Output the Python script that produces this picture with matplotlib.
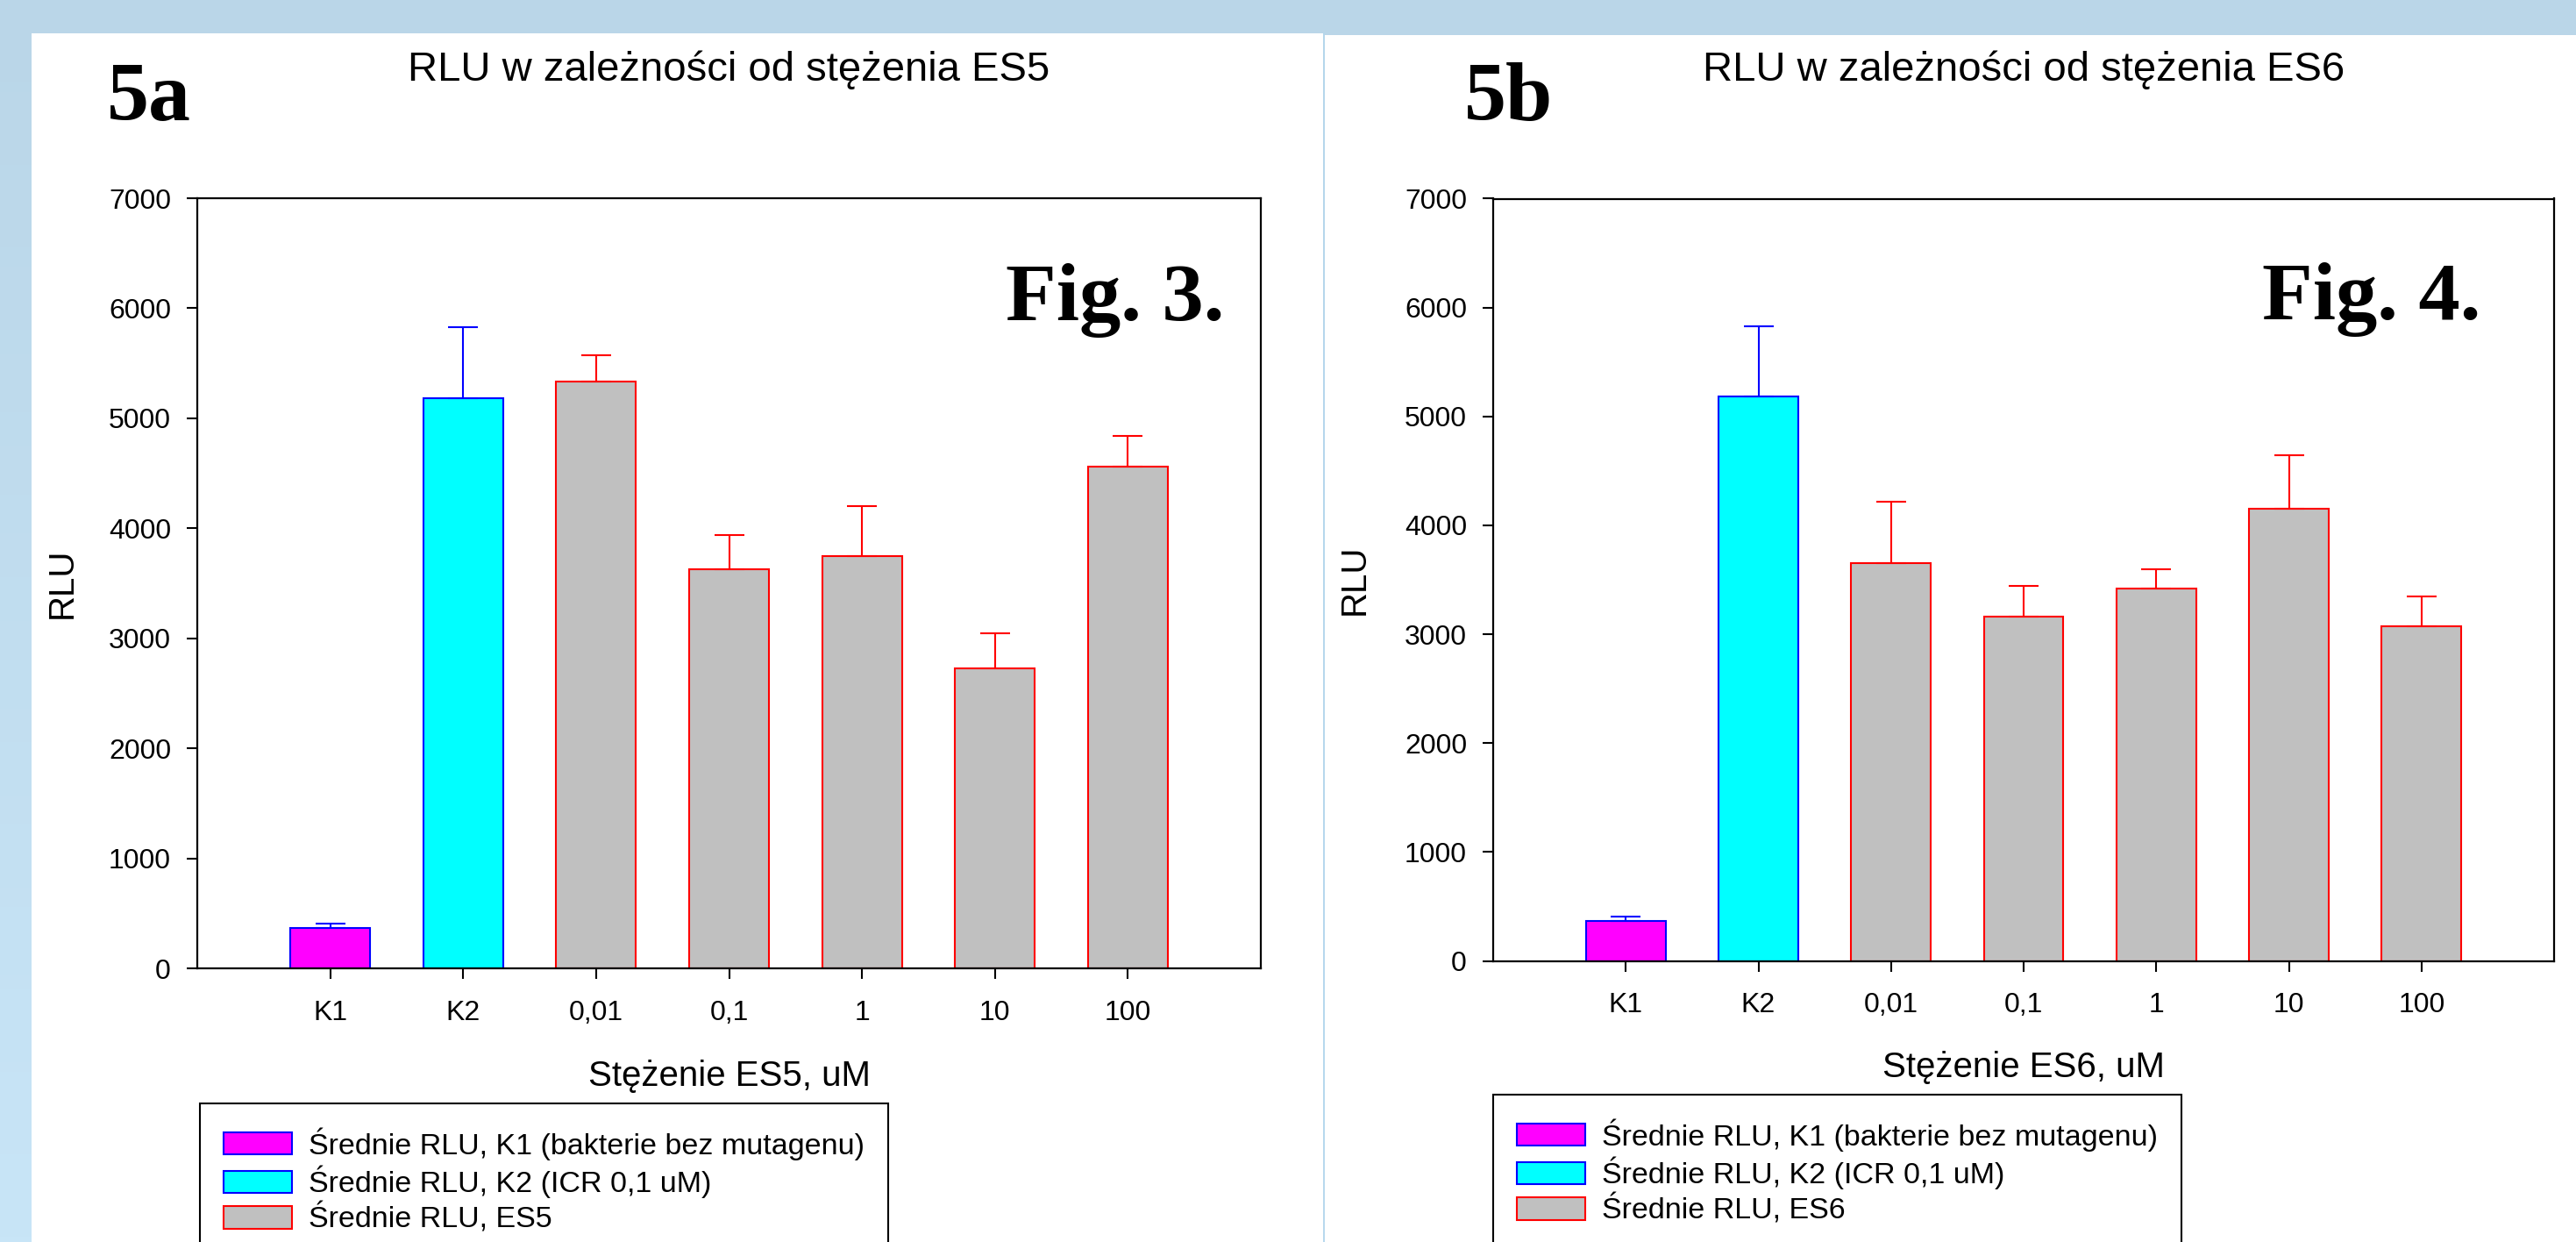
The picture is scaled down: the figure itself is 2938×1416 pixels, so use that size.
import numpy as np
import matplotlib
matplotlib.use("Agg")
import matplotlib.pyplot as plt
from matplotlib.patches import Patch, Rectangle
from matplotlib.colors import LinearSegmentedColormap

W, H = 2938, 1416

# ---------------- data ----------------
categories = ["K1", "K2", "0,01", "0,1", "1", "10", "100"]
es5_means = [365, 5185, 5335, 3630, 3750, 2725, 4560]
es5_errors = [45, 645, 240, 312, 450, 317, 276]
es6_means = [365, 5185, 3656, 3158, 3420, 4150, 3070]
es6_errors = [45, 645, 557, 288, 180, 490, 280]

titles = ["RLU w zależności od stężenia ES5", "RLU w zależności od stężenia ES6"]
xlabels = ["Stężenie ES5, uM", "Stężenie ES6, uM"]
panel_tags = ["5a", "5b"]
fig_tags = ["Fig. 3.", "Fig. 4."]
legend_labels_5 = ["Średnie RLU, K1 (bakterie bez mutagenu)",
                   "Średnie RLU, K2 (ICR 0,1 uM)",
                   "Średnie RLU, ES5"]
legend_labels_6 = ["Średnie RLU, K1 (bakterie bez mutagenu)",
                   "Średnie RLU, K2 (ICR 0,1 uM)",
                   "Średnie RLU, ES6"]

FACE = ["#FF00FF", "#00FFFF"] + ["#C0C0C0"] * 5
EDGE = ["#0000FF", "#0000FF"] + ["#FF0000"] * 5

SANS = ["Liberation Sans", "DejaVu Sans"]
SERIF = ["Liberation Serif", "DejaVu Serif"]
plt.rcParams["font.family"] = SANS


def fx(px):
    return px / W


def fy(py):
    return 1 - py / H


fig = plt.figure(figsize=(W / 100, H / 100), dpi=100)

# ---------------- background ----------------
bg = fig.add_axes([0, 0, 1, 1], zorder=-10)
cmap = LinearSegmentedColormap.from_list("bgblue", ["#BAD6E8", "#C8E5F7"])
grad = np.linspace(0, 1, 256).reshape(-1, 1)
bg.imshow(grad, cmap=cmap, aspect="auto", extent=[0, 1, 0, 1], origin="upper")
bg.set_xlim(0, 1)
bg.set_ylim(0, 1)
bg.axis("off")
# white panels
bg.add_patch(Rectangle((fx(36), 0), fx(1509) - fx(36), fy(38), facecolor="white",
                       edgecolor="none"))
bg.add_patch(Rectangle((fx(1511), 0), 1 - fx(1511), fy(40), facecolor="white",
                       edgecolor="none"))
bg.plot([fx(1510), fx(1510)], [0, fy(38)], color="#B5D6EC", lw=1.2)

# ---------------- axes ----------------
axes_px = [
    (225, 1438, 226, 1104),
    (1703, 2913, 226.5, 1095.5),
]
data = [(es5_means, es5_errors), (es6_means, es6_errors)]
legend_sets = [legend_labels_5, legend_labels_6]
tag_pos = [(122, 137), (1670, 137)]
figtag_pos = [(1147, 365), (2580, 364)]
legend_pos = [(228, 1258), (1702.5, 1248)]
xlabel_px = [1227, 1217]
ylabel_px = [71, 1545]

x = np.arange(1, len(categories) + 1)

for k in range(2):
    l, r, t, b = axes_px[k]
    ax = fig.add_axes([fx(l), fy(b), fx(r) - fx(l), fy(t) - fy(b)])
    means, errs = data[k]
    ax.bar(x, means, width=0.6, color=FACE, edgecolor=EDGE, linewidth=1.5,
           zorder=2)
    for i in range(len(x)):
        ax.errorbar(x[i], means[i], yerr=[[0], [errs[i]]], fmt="none",
                    ecolor=EDGE[i], elinewidth=1.5, capsize=12, capthick=1.5,
                    zorder=3)
    ax.set_xlim(0, 8)
    ax.set_ylim(0, 7000)
    ax.set_yticks(np.arange(0, 7001, 1000))
    ax.set_xticks(x)
    ax.set_xticklabels(categories)
    for sp in ax.spines.values():
        sp.set_linewidth(1.6)
        sp.set_color("black")
    ax.tick_params(axis="both", direction="out", length=8.6, width=1.5,
                   labelsize=23, colors="black")
    ax.tick_params(axis="y", pad=13)
    ax.tick_params(axis="x", pad=17)

    ax.set_ylabel("RLU", fontsize=29, va="center", ha="center")
    ax.yaxis.set_label_coords((ylabel_px[k] - l) / (r - l), 0.5)
    ax.set_xlabel(xlabels[k], fontsize=29, va="center", ha="center")
    ax.xaxis.set_label_coords(0.5, (b - xlabel_px[k]) / (b - t))

    # title
    fig.text(fx((l + r) / 2), fy(92), titles[k], fontsize=34, ha="center",
             va="baseline", family=SANS)
    # panel tag
    fig.text(fx(tag_pos[k][0]), fy(tag_pos[k][1]), panel_tags[k], fontsize=69,
             fontweight="bold", family=SERIF, ha="left", va="baseline")
    fig.text(fx(figtag_pos[k][0]), fy(figtag_pos[k][1]), fig_tags[k],
             fontsize=68, fontweight="bold", family=SERIF, ha="left",
             va="baseline")

    handles = [Patch(facecolor=FACE[j], edgecolor=EDGE[j], linewidth=1.5)
               for j in range(3)]
    leg = fig.legend(handles, legend_sets[k], loc="upper left",
                     bbox_to_anchor=(fx(legend_pos[k][0]), fy(legend_pos[k][1])),
                     bbox_transform=fig.transFigure, borderaxespad=0,
                     fontsize=24.5, frameon=True, fancybox=False, shadow=False,
                     edgecolor="black", framealpha=1, borderpad=0.8,
                     labelspacing=0.17, handlelength=2.3, handleheight=0.76,
                     handletextpad=0.55)
    leg.get_frame().set_linewidth(1.5)

fig.savefig("out.png", dpi=100)
